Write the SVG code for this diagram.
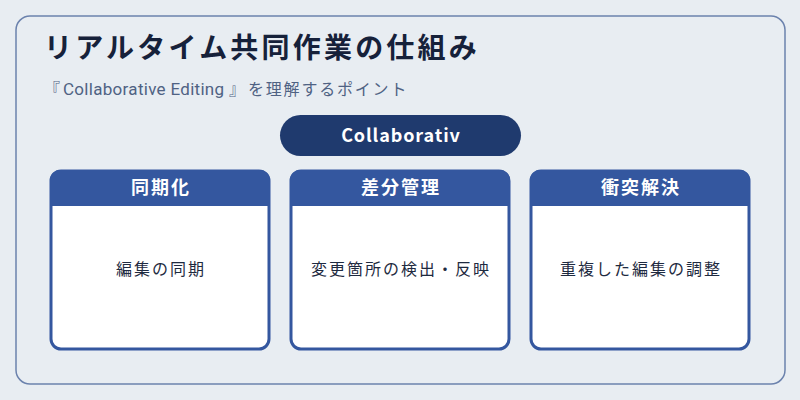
<svg xmlns="http://www.w3.org/2000/svg" width="800" height="400" viewBox="0 0 800 400">
<defs>
<style>
.t{font-family:"Noto Sans CJK JP","Noto Sans",sans-serif;}
.card{fill:#FFFFFF;stroke:#34579F;stroke-width:3;}
.hdr{fill:#34579F;}
.ht{fill:#FFFFFF;font-size:18px;font-weight:bold;text-anchor:middle;letter-spacing:2px;}
.bt{fill:#1E2A40;font-size:16px;text-anchor:middle;letter-spacing:2px;}
</style>
<clipPath id="c1"><rect x="50" y="170" width="220" height="180" rx="10"/></clipPath>
<clipPath id="c2"><rect x="290" y="170" width="220" height="180" rx="10"/></clipPath>
<clipPath id="c3"><rect x="530" y="170" width="220" height="180" rx="10"/></clipPath>
</defs>
<rect x="0" y="0" width="800" height="400" fill="#E8EDF2"/>
<rect x="16" y="16" width="769" height="368" rx="14" fill="#E8EDF2" stroke="#6B82AD" stroke-width="1.5"/>
<text class="t" x="44" y="58" font-size="28" font-weight="bold" fill="#16213A" letter-spacing="3.2">リアルタイム共同作業の仕組み</text>
<text class="t" y="95" font-size="16" fill="#4F6283"><tspan x="44">『</tspan><tspan x="63" font-family="Roboto,'Noto Sans',sans-serif" font-size="17" letter-spacing="0.3">Collaborative Editing</tspan><tspan x="229">』</tspan><tspan x="248" letter-spacing="1.8">を理解するポイント</tspan></text>
<g id="hub">
<rect x="280" y="115" width="241" height="41" rx="20.5" fill="#1F3A6E"/>
<text class="t" x="401" y="142" font-size="18" font-weight="bold" fill="#FFFFFF" text-anchor="middle" letter-spacing="0.9">Collaborativ</text>
</g>
<g id="connectors"></g>
<g id="card1">
<rect class="card" x="51" y="171" width="218" height="178" rx="10"/>
<rect class="hdr" x="50" y="170" width="220" height="36" clip-path="url(#c1)"/>
<text class="t ht" x="161" y="194">同期化</text>
<text class="t bt" x="161" y="275">編集の同期</text>
</g>
<g id="card2">
<rect class="card" x="291" y="171" width="218" height="178" rx="10"/>
<rect class="hdr" x="290" y="170" width="220" height="36" clip-path="url(#c2)"/>
<text class="t ht" x="401" y="194">差分管理</text>
<text class="t bt" x="401" y="275">変更箇所の検出・反映</text>
</g>
<g id="card3">
<rect class="card" x="531" y="171" width="218" height="178" rx="10"/>
<rect class="hdr" x="530" y="170" width="220" height="36" clip-path="url(#c3)"/>
<text class="t ht" x="641" y="194">衝突解決</text>
<text class="t bt" x="641" y="275">重複した編集の調整</text>
</g>
</svg>
